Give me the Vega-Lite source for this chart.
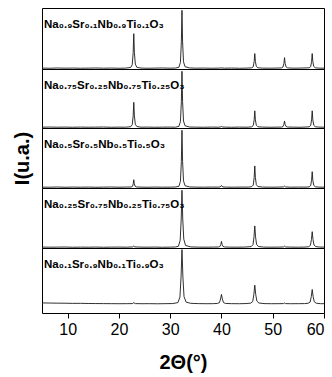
{
"$schema": "https://vega.github.io/schema/vega-lite/v6.json",
"padding": {"top": 7, "left": 11, "right": 10, "bottom": 0},
"background": "white",
"config": {"view": {"stroke": "black", "strokeWidth": 1}, "concat": {"spacing": 0}},
"spacing": 0,
"bounds": "flush",
"resolve": {"scale": {"y": "independent"}},
"datasets": {
"d": [
{"s":1,"x":5,"y":1.2},{"s":1,"x":6.5,"y":0.9},{"s":1,"x":8,"y":1.3},{"s":1,"x":9.5,"y":1.0},{"s":1,"x":11,"y":1.2},{"s":1,"x":12.5,"y":0.9},{"s":1,"x":14,"y":1.1},{"s":1,"x":15.5,"y":1.3},{"s":1,"x":17,"y":1.0},{"s":1,"x":18.5,"y":1.2},{"s":1,"x":20,"y":0.9},{"s":1,"x":21.3,"y":1.1},{"s":1,"x":22.3,"y":2.2},{"s":1,"x":22.6,"y":6.9},{"s":1,"x":22.78,"y":27.5},{"s":1,"x":22.9,"y":60},{"s":1,"x":23.02,"y":27.5},{"s":1,"x":23.2,"y":8},{"s":1,"x":23.5,"y":2.5},{"s":1,"x":24.3,"y":1.2},{"s":1,"x":25.5,"y":0.9},{"s":1,"x":27,"y":1.1},{"s":1,"x":28.5,"y":1.3},{"s":1,"x":30,"y":1.0},{"s":1,"x":31,"y":1.2},{"s":1,"x":31.7,"y":2.5},{"s":1,"x":32,"y":11},{"s":1,"x":32.18,"y":46},{"s":1,"x":32.3,"y":100},{"s":1,"x":32.42,"y":46},{"s":1,"x":32.6,"y":12},{"s":1,"x":32.9,"y":3.5},{"s":1,"x":33.8,"y":1.4},{"s":1,"x":35,"y":1.0},{"s":1,"x":36.5,"y":1.2},{"s":1,"x":38,"y":0.9},{"s":1,"x":39.5,"y":1.1},{"s":1,"x":40,"y":1.4},{"s":1,"x":40.6,"y":1.0},{"s":1,"x":42,"y":1.2},{"s":1,"x":43.5,"y":0.9},{"s":1,"x":45,"y":1.1},{"s":1,"x":45.9,"y":1.6},{"s":1,"x":46.2,"y":3.5},{"s":1,"x":46.38,"y":12.5},{"s":1,"x":46.5,"y":26},{"s":1,"x":46.62,"y":12.5},{"s":1,"x":46.8,"y":4},{"s":1,"x":47.1,"y":1.7},{"s":1,"x":48,"y":1.1},{"s":1,"x":49.5,"y":1.0},{"s":1,"x":51,"y":1.2},{"s":1,"x":51.7,"y":1.4},{"s":1,"x":52,"y":3},{"s":1,"x":52.18,"y":9},{"s":1,"x":52.3,"y":19},{"s":1,"x":52.42,"y":9},{"s":1,"x":52.6,"y":3.2},{"s":1,"x":52.9,"y":1.5},{"s":1,"x":54,"y":1.0},{"s":1,"x":55.5,"y":1.2},{"s":1,"x":57.1,"y":1.6},{"s":1,"x":57.4,"y":3.5},{"s":1,"x":57.58,"y":12.5},{"s":1,"x":57.7,"y":26},{"s":1,"x":57.82,"y":12.5},{"s":1,"x":58,"y":4},{"s":1,"x":58.3,"y":1.7},{"s":1,"x":59,"y":1.1},{"s":1,"x":60,"y":1.0},
{"s":2,"x":5,"y":1.0},{"s":2,"x":6.5,"y":1.3},{"s":2,"x":8,"y":1.0},{"s":2,"x":9.5,"y":1.2},{"s":2,"x":11,"y":0.9},{"s":2,"x":12.5,"y":1.2},{"s":2,"x":14,"y":1.0},{"s":2,"x":15.5,"y":1.1},{"s":2,"x":17,"y":1.3},{"s":2,"x":18.5,"y":0.9},{"s":2,"x":20,"y":1.1},{"s":2,"x":21.3,"y":1.0},{"s":2,"x":22.3,"y":1.9},{"s":2,"x":22.6,"y":5.4},{"s":2,"x":22.78,"y":21},{"s":2,"x":22.9,"y":45},{"s":2,"x":23.02,"y":21},{"s":2,"x":23.2,"y":6},{"s":2,"x":23.5,"y":2.2},{"s":2,"x":24.3,"y":1.0},{"s":2,"x":25.5,"y":1.2},{"s":2,"x":27,"y":0.9},{"s":2,"x":28.5,"y":1.1},{"s":2,"x":30,"y":1.2},{"s":2,"x":31,"y":1.0},{"s":2,"x":31.7,"y":2.5},{"s":2,"x":32,"y":11},{"s":2,"x":32.18,"y":46},{"s":2,"x":32.3,"y":100},{"s":2,"x":32.42,"y":46},{"s":2,"x":32.6,"y":12},{"s":2,"x":32.9,"y":3.5},{"s":2,"x":33.8,"y":1.3},{"s":2,"x":35,"y":1.1},{"s":2,"x":36.5,"y":0.9},{"s":2,"x":38,"y":1.2},{"s":2,"x":39.5,"y":1.0},{"s":2,"x":39.8,"y":1.5},{"s":2,"x":40,"y":2.2},{"s":2,"x":40.2,"y":1.4},{"s":2,"x":40.8,"y":1.1},{"s":2,"x":42,"y":0.9},{"s":2,"x":43.5,"y":1.2},{"s":2,"x":45,"y":1.0},{"s":2,"x":45.9,"y":1.6},{"s":2,"x":46.2,"y":3.9},{"s":2,"x":46.38,"y":14},{"s":2,"x":46.5,"y":30},{"s":2,"x":46.62,"y":14},{"s":2,"x":46.8,"y":4.5},{"s":2,"x":47.1,"y":1.8},{"s":2,"x":48,"y":1.2},{"s":2,"x":49.5,"y":0.9},{"s":2,"x":51,"y":1.1},{"s":2,"x":51.7,"y":1.2},{"s":2,"x":52,"y":2.1},{"s":2,"x":52.18,"y":6},{"s":2,"x":52.3,"y":12},{"s":2,"x":52.42,"y":6},{"s":2,"x":52.6,"y":2.3},{"s":2,"x":52.9,"y":1.3},{"s":2,"x":54,"y":1.1},{"s":2,"x":55.5,"y":0.9},{"s":2,"x":57.1,"y":1.6},{"s":2,"x":57.4,"y":3.9},{"s":2,"x":57.58,"y":14},{"s":2,"x":57.7,"y":30},{"s":2,"x":57.82,"y":14},{"s":2,"x":58,"y":4.5},{"s":2,"x":58.3,"y":1.8},{"s":2,"x":59,"y":1.2},{"s":2,"x":60,"y":1.0},
{"s":3,"x":5,"y":1.1},{"s":3,"x":6.5,"y":1.0},{"s":3,"x":8,"y":1.3},{"s":3,"x":9.5,"y":0.9},{"s":3,"x":11,"y":1.2},{"s":3,"x":12.5,"y":1.0},{"s":3,"x":14,"y":1.2},{"s":3,"x":15.5,"y":0.9},{"s":3,"x":17,"y":1.1},{"s":3,"x":18.5,"y":1.3},{"s":3,"x":20,"y":1.0},{"s":3,"x":21.5,"y":1.2},{"s":3,"x":22.4,"y":1.4},{"s":3,"x":22.65,"y":2.5},{"s":3,"x":22.8,"y":7},{"s":3,"x":22.9,"y":14},{"s":3,"x":23.0,"y":7},{"s":3,"x":23.15,"y":2.8},{"s":3,"x":23.4,"y":1.5},{"s":3,"x":24.3,"y":1.1},{"s":3,"x":25.5,"y":0.9},{"s":3,"x":27,"y":1.2},{"s":3,"x":28.5,"y":1.0},{"s":3,"x":30,"y":1.1},{"s":3,"x":31,"y":1.3},{"s":3,"x":31.7,"y":2.5},{"s":3,"x":32,"y":11},{"s":3,"x":32.18,"y":46},{"s":3,"x":32.3,"y":100},{"s":3,"x":32.42,"y":46},{"s":3,"x":32.6,"y":12},{"s":3,"x":32.9,"y":3.5},{"s":3,"x":33.8,"y":1.4},{"s":3,"x":35,"y":1.1},{"s":3,"x":36.5,"y":1.0},{"s":3,"x":38,"y":1.2},{"s":3,"x":39.3,"y":1.1},{"s":3,"x":39.7,"y":1.4},{"s":3,"x":39.9,"y":2.5},{"s":3,"x":40,"y":4},{"s":3,"x":40.1,"y":2.5},{"s":3,"x":40.3,"y":1.4},{"s":3,"x":41,"y":1.1},{"s":3,"x":42.5,"y":1.0},{"s":3,"x":44,"y":1.2},{"s":3,"x":45.2,"y":1.1},{"s":3,"x":45.9,"y":1.9},{"s":3,"x":46.2,"y":4.7},{"s":3,"x":46.38,"y":17.6},{"s":3,"x":46.5,"y":38},{"s":3,"x":46.62,"y":17.6},{"s":3,"x":46.8,"y":5.4},{"s":3,"x":47.1,"y":2.1},{"s":3,"x":48,"y":1.2},{"s":3,"x":49.5,"y":1.0},{"s":3,"x":51,"y":1.1},{"s":3,"x":52.1,"y":1.5},{"s":3,"x":52.3,"y":3},{"s":3,"x":52.5,"y":1.5},{"s":3,"x":53.5,"y":1.0},{"s":3,"x":55,"y":1.2},{"s":3,"x":56.3,"y":1.1},{"s":3,"x":57.1,"y":1.5},{"s":3,"x":57.4,"y":3.7},{"s":3,"x":57.58,"y":13},{"s":3,"x":57.7,"y":28},{"s":3,"x":57.82,"y":13},{"s":3,"x":58,"y":4.2},{"s":3,"x":58.3,"y":1.8},{"s":3,"x":59,"y":1.1},{"s":3,"x":60,"y":1.0},
{"s":4,"x":5,"y":1.2},{"s":4,"x":6.5,"y":1.0},{"s":4,"x":8,"y":1.1},{"s":4,"x":9.5,"y":1.3},{"s":4,"x":11,"y":0.9},{"s":4,"x":12.5,"y":1.1},{"s":4,"x":14,"y":1.0},{"s":4,"x":15.5,"y":1.2},{"s":4,"x":17,"y":0.9},{"s":4,"x":18.5,"y":1.1},{"s":4,"x":20,"y":1.2},{"s":4,"x":21.5,"y":1.0},{"s":4,"x":22.7,"y":1.5},{"s":4,"x":22.9,"y":3},{"s":4,"x":23.1,"y":1.5},{"s":4,"x":24.3,"y":1.1},{"s":4,"x":25.5,"y":1.0},{"s":4,"x":27,"y":1.2},{"s":4,"x":28.5,"y":0.9},{"s":4,"x":30,"y":1.1},{"s":4,"x":31,"y":1.3},{"s":4,"x":31.6,"y":2.5},{"s":4,"x":31.95,"y":13},{"s":4,"x":32.15,"y":50},{"s":4,"x":32.3,"y":100},{"s":4,"x":32.45,"y":50},{"s":4,"x":32.65,"y":15},{"s":4,"x":33,"y":4},{"s":4,"x":34,"y":1.5},{"s":4,"x":35.5,"y":1.1},{"s":4,"x":37,"y":1.0},{"s":4,"x":38.5,"y":1.2},{"s":4,"x":39.4,"y":1.3},{"s":4,"x":39.7,"y":2.2},{"s":4,"x":39.87,"y":5.5},{"s":4,"x":40,"y":11},{"s":4,"x":40.13,"y":5.5},{"s":4,"x":40.3,"y":2.4},{"s":4,"x":40.6,"y":1.4},{"s":4,"x":41.5,"y":1.1},{"s":4,"x":43,"y":1.0},{"s":4,"x":44.5,"y":1.2},{"s":4,"x":45.8,"y":2},{"s":4,"x":46.15,"y":5.4},{"s":4,"x":46.35,"y":19},{"s":4,"x":46.5,"y":38},{"s":4,"x":46.65,"y":19},{"s":4,"x":46.85,"y":6},{"s":4,"x":47.2,"y":2.2},{"s":4,"x":48.2,"y":1.2},{"s":4,"x":49.5,"y":1.0},{"s":4,"x":51,"y":1.1},{"s":4,"x":52.1,"y":1.4},{"s":4,"x":52.3,"y":2.8},{"s":4,"x":52.5,"y":1.4},{"s":4,"x":53.5,"y":1.1},{"s":4,"x":55,"y":1.0},{"s":4,"x":56.3,"y":1.2},{"s":4,"x":57,"y":1.8},{"s":4,"x":57.35,"y":4.2},{"s":4,"x":57.55,"y":14.5},{"s":4,"x":57.7,"y":28},{"s":4,"x":57.85,"y":14.5},{"s":4,"x":58.05,"y":4.8},{"s":4,"x":58.4,"y":2},{"s":4,"x":59.2,"y":1.2},{"s":4,"x":60,"y":1.1},
{"s":5,"x":5,"y":2.5},{"s":5,"x":6.5,"y":2.2},{"s":5,"x":8,"y":2.0},{"s":5,"x":9.5,"y":1.9},{"s":5,"x":11,"y":1.6},{"s":5,"x":12.5,"y":1.7},{"s":5,"x":14,"y":1.4},{"s":5,"x":15.5,"y":1.3},{"s":5,"x":17,"y":1.2},{"s":5,"x":18.5,"y":1.1},{"s":5,"x":20,"y":1.0},{"s":5,"x":21.5,"y":1.1},{"s":5,"x":22.6,"y":1.2},{"s":5,"x":22.9,"y":2.8},{"s":5,"x":23.2,"y":1.2},{"s":5,"x":24.5,"y":1.0},{"s":5,"x":26,"y":1.1},{"s":5,"x":27.5,"y":0.9},{"s":5,"x":29,"y":1.1},{"s":5,"x":30.5,"y":1.3},{"s":5,"x":31.5,"y":3},{"s":5,"x":31.9,"y":13},{"s":5,"x":32.12,"y":50},{"s":5,"x":32.3,"y":100},{"s":5,"x":32.48,"y":50},{"s":5,"x":32.7,"y":14},{"s":5,"x":33.1,"y":4},{"s":5,"x":34,"y":1.7},{"s":5,"x":35.5,"y":1.2},{"s":5,"x":37,"y":1.0},{"s":5,"x":38.3,"y":1.1},{"s":5,"x":39.2,"y":1.5},{"s":5,"x":39.6,"y":2.8},{"s":5,"x":39.82,"y":9.5},{"s":5,"x":40,"y":18},{"s":5,"x":40.18,"y":9.5},{"s":5,"x":40.4,"y":3},{"s":5,"x":40.8,"y":1.5},{"s":5,"x":42,"y":1.1},{"s":5,"x":43.5,"y":1.0},{"s":5,"x":44.8,"y":1.3},{"s":5,"x":45.7,"y":2},{"s":5,"x":46.1,"y":5},{"s":5,"x":46.32,"y":18},{"s":5,"x":46.5,"y":35},{"s":5,"x":46.68,"y":18},{"s":5,"x":46.9,"y":6},{"s":5,"x":47.3,"y":2.3},{"s":5,"x":48.3,"y":1.2},{"s":5,"x":49.8,"y":1.0},{"s":5,"x":51.2,"y":1.1},{"s":5,"x":52.1,"y":1.2},{"s":5,"x":52.3,"y":2.2},{"s":5,"x":52.5,"y":1.2},{"s":5,"x":53.5,"y":1.0},{"s":5,"x":55,"y":1.1},{"s":5,"x":56.2,"y":1.2},{"s":5,"x":56.9,"y":1.8},{"s":5,"x":57.3,"y":4.1},{"s":5,"x":57.52,"y":14},{"s":5,"x":57.7,"y":27},{"s":5,"x":57.88,"y":14},{"s":5,"x":58.1,"y":4.6},{"s":5,"x":58.5,"y":1.8},{"s":5,"x":59.3,"y":1.1},{"s":5,"x":60,"y":1.0}
]
},
"vconcat": [
{"width": 282, "height": 61, "layer": [
 {"data": {"name": "d"}, "transform": [{"filter": "datum.s==1"}], "mark": {"type": "line", "color": "#1a1a1a", "strokeWidth": 0.9},
  "encoding": {"x": {"field": "x", "type": "quantitative", "scale": {"domain": [5, 60], "nice": false, "zero": false}, "axis": null},
   "y": {"field": "y", "type": "quantitative", "scale": {"domain": [-0.4, 104], "nice": false, "zero": false}, "axis": null}}},
 {"data": {"values": [{"t": "Na₀.₉Sr₀.₁Nb₀.₉Ti₀.₁O₃"}]}, "mark": {"type": "text", "align": "left", "baseline": "alphabetic", "font": "Liberation Sans", "fontWeight": "bold", "fontSize": 11.5, "color": "black"},
  "encoding": {"x": {"datum": 5.4, "type": "quantitative"}, "y": {"datum": 69, "type": "quantitative"}, "text": {"field": "t"}}}
]},
{"width": 282, "height": 59, "layer": [
 {"data": {"name": "d"}, "transform": [{"filter": "datum.s==2"}], "mark": {"type": "line", "color": "#1a1a1a", "strokeWidth": 0.9},
  "encoding": {"x": {"field": "x", "type": "quantitative", "scale": {"domain": [5, 60], "nice": false, "zero": false}, "axis": null},
   "y": {"field": "y", "type": "quantitative", "scale": {"domain": [-0.4, 104], "nice": false, "zero": false}, "axis": null}}},
 {"data": {"values": [{"t": "Na₀.₇₅Sr₀.₂₅Nb₀.₇₅Ti₀.₂₅O₃"}]}, "mark": {"type": "text", "align": "left", "baseline": "alphabetic", "font": "Liberation Sans", "fontWeight": "bold", "fontSize": 11.5, "color": "black"},
  "encoding": {"x": {"datum": 5.4, "type": "quantitative"}, "y": {"datum": 69, "type": "quantitative"}, "text": {"field": "t"}}}
]},
{"width": 282, "height": 60, "layer": [
 {"data": {"name": "d"}, "transform": [{"filter": "datum.s==3"}], "mark": {"type": "line", "color": "#1a1a1a", "strokeWidth": 0.9},
  "encoding": {"x": {"field": "x", "type": "quantitative", "scale": {"domain": [5, 60], "nice": false, "zero": false}, "axis": null},
   "y": {"field": "y", "type": "quantitative", "scale": {"domain": [-0.4, 104], "nice": false, "zero": false},
     "axis": {"title": "I(u.a.)", "labels": false, "ticks": false, "domain": false, "grid": false, "titleFont": "Liberation Sans", "titleFontSize": 20, "titleFontWeight": "bold", "titleColor": "black", "titlePadding": 10}}}},
 {"data": {"values": [{"t": "Na₀.₅Sr₀.₅Nb₀.₅Ti₀.₅O₃"}]}, "mark": {"type": "text", "align": "left", "baseline": "alphabetic", "font": "Liberation Sans", "fontWeight": "bold", "fontSize": 11.5, "color": "black"},
  "encoding": {"x": {"datum": 5.4, "type": "quantitative"}, "y": {"datum": 69, "type": "quantitative"}, "text": {"field": "t"}}}
]},
{"width": 282, "height": 60, "layer": [
 {"data": {"name": "d"}, "transform": [{"filter": "datum.s==4"}], "mark": {"type": "line", "color": "#1a1a1a", "strokeWidth": 0.9},
  "encoding": {"x": {"field": "x", "type": "quantitative", "scale": {"domain": [5, 60], "nice": false, "zero": false}, "axis": null},
   "y": {"field": "y", "type": "quantitative", "scale": {"domain": [-0.4, 104], "nice": false, "zero": false}, "axis": null}}},
 {"data": {"values": [{"t": "Na₀.₂₅Sr₀.₇₅Nb₀.₂₅Ti₀.₇₅O₃"}]}, "mark": {"type": "text", "align": "left", "baseline": "alphabetic", "font": "Liberation Sans", "fontWeight": "bold", "fontSize": 11.5, "color": "black"},
  "encoding": {"x": {"datum": 5.4, "type": "quantitative"}, "y": {"datum": 69, "type": "quantitative"}, "text": {"field": "t"}}}
]},
{"width": 282, "height": 65, "layer": [
 {"data": {"name": "d"}, "transform": [{"filter": "datum.s==5"}], "mark": {"type": "line", "color": "#1a1a1a", "strokeWidth": 0.9},
  "encoding": {"x": {"field": "x", "type": "quantitative", "scale": {"domain": [5, 60], "nice": false, "zero": false},
     "axis": {"title": "2Θ(°)", "values": [10, 15, 20, 25, 30, 35, 40, 45, 50, 55, 60], "labelExpr": "datum.value % 10 === 0 ? datum.label : ''", "grid": false, "domain": false,
       "tickColor": "black", "tickSize": {"condition": {"test": "datum.value % 10 === 0", "value": 5}, "value": 3}, "tickWidth": 1,
       "labelFont": "Liberation Sans", "labelFontSize": 16, "labelColor": "black", "labelPadding": 3,
       "titleFont": "Liberation Sans", "titleFontSize": 20, "titleFontWeight": "bold", "titleColor": "black", "titlePadding": 15}},
   "y": {"field": "y", "type": "quantitative", "scale": {"domain": [-16, 103], "nice": false, "zero": false}, "axis": null}}},
 {"data": {"values": [{"t": "Na₀.₁Sr₀.₉Nb₀.₁Ti₀.₉O₃"}]}, "mark": {"type": "text", "align": "left", "baseline": "alphabetic", "font": "Liberation Sans", "fontWeight": "bold", "fontSize": 11.5, "color": "black"},
  "encoding": {"x": {"datum": 5.4, "type": "quantitative"}, "y": {"datum": 66.4, "type": "quantitative"}, "text": {"field": "t"}}}
]}
]
}
